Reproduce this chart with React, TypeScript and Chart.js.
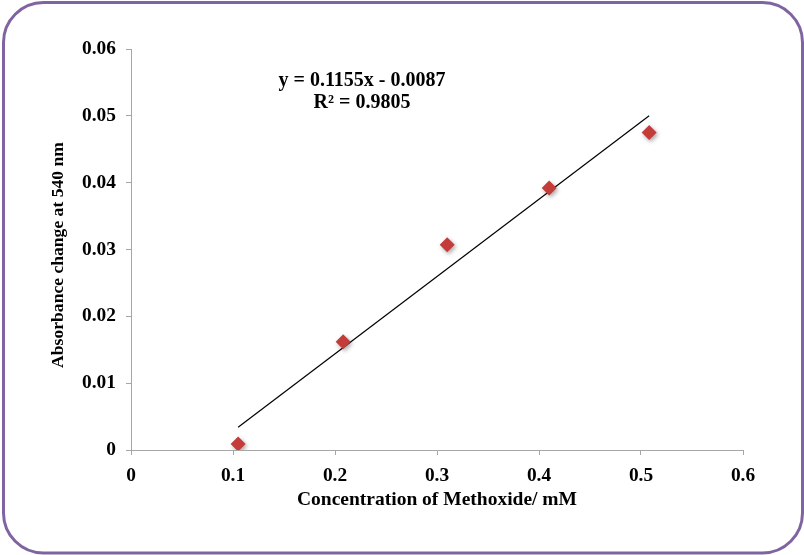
import React, { useEffect, useRef } from "react";
import { Chart, registerables } from "chart.js";

Chart.register(...registerables);

const concentration = [0.105, 0.208, 0.31, 0.41, 0.508];
const absorbance = [0.0009, 0.0162, 0.0307, 0.0392, 0.0475];
const trendX = [0.105, 0.508];
const trendY = [0.0034, 0.05];
const equationLines = ["y = 0.1155x - 0.0087", "R\u00b2 = 0.9805"];
const xTitle = "Concentration of Methoxide/ mM";
const yTitle = "Absorbance change at 540 nm";

const FONT = "'Liberation Serif', 'Times New Roman', serif";
const AXIS_COLOR = "#A6A6A6";
const MARKER = "#C43C3A";
const BORDER = "#8064A2";

const decorPlugin = {
  id: "decor",
  beforeDatasetDraw(chart: any, args: any) {
    if (args.index === 0) {
      const ctx = chart.ctx;
      ctx.save();
      ctx.shadowColor = "rgba(0,0,0,0.35)";
      ctx.shadowBlur = 4;
      ctx.shadowOffsetX = 1.5;
      ctx.shadowOffsetY = 2;
    }
  },
  afterDatasetDraw(chart: any, args: any) {
    if (args.index === 0) chart.ctx.restore();
  },
  afterDraw(chart: any) {
    const ctx = chart.ctx;
    ctx.save();
    // rounded border
    ctx.strokeStyle = BORDER;
    ctx.lineWidth = 3;
    ctx.beginPath();
    (ctx as any).roundRect(3.5, 2.5, 799, 550.5, 40);
    ctx.stroke();
    // equation
    ctx.fillStyle = "#000";
    ctx.font = `bold 20px ${FONT}`;
    ctx.textAlign = "center";
    ctx.textBaseline = "middle";
    ctx.fillText(equationLines[0], 362, 81);
    ctx.fillText(equationLines[1], 362, 103);
    // axis titles
    ctx.font = `bold 19.5px ${FONT}`;
    ctx.fillText(xTitle, 437, 500);
    ctx.font = `bold 17.6px ${FONT}`;
    ctx.translate(58, 255);
    ctx.rotate(-Math.PI / 2);
    ctx.fillText(yTitle, 0, 0);
    ctx.restore();
  },
};

export default function App() {
  const ref = useRef<HTMLCanvasElement | null>(null);
  useEffect(() => {
    document.body.style.margin = "0";
    const canvas = ref.current!;
    const chart = new Chart(canvas, {
      type: "scatter",
      data: {
        datasets: [
          {
            type: "scatter",
            label: "data",
            data: concentration.map((x, i) => ({ x, y: absorbance[i] })),
            pointStyle: "rectRot",
            pointRadius: 7.5,
            backgroundColor: MARKER,
            borderColor: MARKER,
            borderWidth: 0,
            order: 1,
          },
          {
            type: "line",
            label: "trend",
            data: trendX.map((x, i) => ({ x, y: trendY[i] })),
            borderColor: "#000",
            borderWidth: 1.2,
            pointRadius: 0,
            fill: false,
            order: 2,
          } as any,
        ],
      },
      options: {
        animation: false,
        responsive: false,
        events: [],
        layout: { padding: { left: 0, right: 61, top: 49, bottom: 0 } },
        plugins: {
          legend: { display: false },
          tooltip: { enabled: false },
          title: { display: false },
        },
        scales: {
          x: {
            type: "linear",
            min: 0,
            max: 0.6,
            border: { display: true, color: AXIS_COLOR, width: 1 },
            grid: {
              display: true,
              drawOnChartArea: false,
              drawTicks: true,
              tickLength: 5,
              tickColor: AXIS_COLOR,
            },
            ticks: {
              stepSize: 0.1,
              padding: 9,
              color: "#000",
              font: { family: FONT, size: 19.4, weight: "bold" },
              callback: (v: any) => String(Math.round(Number(v) * 10) / 10),
            },
            afterFit: (s: any) => {
              s.height = 105;
            },
          },
          y: {
            type: "linear",
            min: 0,
            max: 0.06,
            border: { display: true, color: AXIS_COLOR, width: 1 },
            grid: {
              display: true,
              drawOnChartArea: false,
              drawTicks: true,
              tickLength: 5,
              tickColor: AXIS_COLOR,
            },
            ticks: {
              stepSize: 0.01,
              padding: 10,
              color: "#000",
              font: { family: FONT, size: 19.4, weight: "bold" },
              callback: (v: any) => {
                const n = Math.round(Number(v) * 100) / 100;
                return n === 0 ? "0" : n.toFixed(2);
              },
            },
            afterFit: (s: any) => {
              s.width = 131;
            },
          },
        },
      },
      plugins: [decorPlugin],
    });
    return () => chart.destroy();
  }, []);
  return (
    <div style={{ width: 804, height: 555, background: "#fff" }}>
      <canvas ref={ref} width={804} height={555} style={{ display: "block" }} />
    </div>
  );
}
